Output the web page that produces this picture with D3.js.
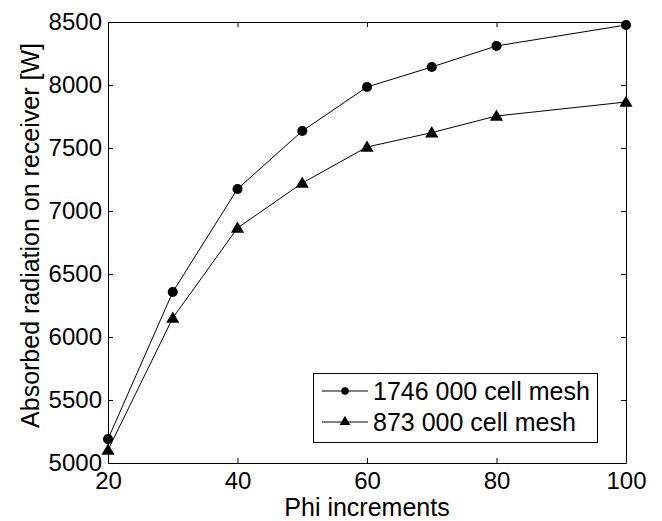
<!DOCTYPE html>
<html>
<head>
<meta charset="utf-8">
<script src="https://cdn.jsdelivr.net/npm/d3@7"></script>
<style>
  html, body { margin: 0; padding: 0; background: #fff; }
  svg { display: block; font-family: "Liberation Sans", Arial, sans-serif; }
</style>
</head>
<body>
<svg id="chart" width="662" height="521"></svg>
<script>
const phi = [20, 30, 40, 50, 60, 70, 80, 100];
const fineMesh = [5190, 6357, 7175, 7635, 7984, 8143, 8310, 8476];
const coarseMesh = [5103, 6151, 6865, 7222, 7508, 7622, 7754, 7865];
const seriesNames = ["1746 000 cell mesh", "873 000 cell mesh"];
const xTicks = [20, 40, 60, 80, 100];
const yTicks = [5000, 5500, 6000, 6500, 7000, 7500, 8000, 8500];
const xTitle = "Phi increments";
const yTitle = "Absorbed radiation on receiver [W]";

const svg = d3.select("#chart");
const m = { left: 108, right: 626, top: 22, bottom: 463 };
const x = d3.scaleLinear().domain([20, 100]).range([m.left, m.right]);
const y = d3.scaleLinear().domain([5000, 8500]).range([m.bottom, m.top]);
const fs = 24;
const tfs = 25;
const tl = 5;

// axes
const gB = svg.append("g").attr("transform", `translate(0,${m.bottom})`)
  .call(d3.axisBottom(x).tickValues(xTicks).tickFormat(d3.format("d")).tickSize(-tl).tickPadding(9).tickSizeOuter(0));
const gT = svg.append("g").attr("transform", `translate(0,${m.top})`)
  .call(d3.axisTop(x).tickValues(xTicks).tickSize(-tl).tickFormat("").tickSizeOuter(0));
const gL = svg.append("g").attr("transform", `translate(${m.left},0)`)
  .call(d3.axisLeft(y).tickValues(yTicks).tickFormat(d3.format("d")).tickSize(-tl).tickPadding(6).tickSizeOuter(0));
const gR = svg.append("g").attr("transform", `translate(${m.right},0)`)
  .call(d3.axisRight(y).tickValues(yTicks).tickSize(-tl).tickFormat("").tickSizeOuter(0));
[gB, gT, gL, gR].forEach(g => {
  g.select(".domain").attr("stroke", "#000").attr("stroke-width", 1);
  g.selectAll(".tick line").attr("stroke", "#000");
  g.selectAll("text").attr("font-size", fs).attr("font-family", "Liberation Sans, Arial, sans-serif").attr("fill", "#000");
});
gB.selectAll("text").attr("dy", "0.71em");

// titles
svg.append("text").attr("x", (m.left + m.right) / 2).attr("y", 516)
  .attr("text-anchor", "middle").attr("font-size", tfs).text(xTitle);
svg.append("text").attr("transform", `translate(39,${(m.top + m.bottom) / 2 - 7}) rotate(-90)`)
  .attr("text-anchor", "middle").attr("font-size", tfs).text(yTitle);

// lines
const line = d3.line().x(d => x(d[0])).y(d => y(d[1]));
const s1 = phi.map((p, i) => [p, fineMesh[i]]);
const s2 = phi.map((p, i) => [p, coarseMesh[i]]);
[s1, s2].forEach(s => {
  svg.append("path").datum(s).attr("d", line).attr("fill", "none").attr("stroke", "#000").attr("stroke-width", 1);
});
const circ = d3.symbol().type(d3.symbolCircle).size(80);
const tri = d3.symbol().type(d3.symbolTriangle).size(75);
svg.selectAll(".c").data(s1).enter().append("path")
  .attr("d", circ).attr("transform", d => `translate(${x(d[0])},${y(d[1])})`).attr("fill", "#000");
svg.selectAll(".t").data(s2).enter().append("path")
  .attr("d", tri).attr("transform", d => `translate(${x(d[0])},${y(d[1]) + 1})`).attr("fill", "#000");

// legend
const lg = svg.append("g");
lg.append("rect").attr("x", 313.5).attr("y", 373.5).attr("width", 284).attr("height", 69)
  .attr("fill", "#fff").attr("stroke", "#000").attr("stroke-width", 1);
const rows = [391, 422];
const syms = [d3.symbol().type(d3.symbolCircle).size(45), d3.symbol().type(d3.symbolTriangle).size(50)];
rows.forEach((ry, i) => {
  lg.append("line").attr("x1", 322).attr("x2", 368).attr("y1", ry).attr("y2", ry).attr("stroke", "#000");
  lg.append("path").attr("d", syms[i]).attr("transform", `translate(345,${ry})`).attr("fill", "#000");
  lg.append("text").attr("x", 373).attr("y", ry).attr("dy", "0.35em").attr("font-size", tfs).text(seriesNames[i]);
});
</script>
</body>
</html>
